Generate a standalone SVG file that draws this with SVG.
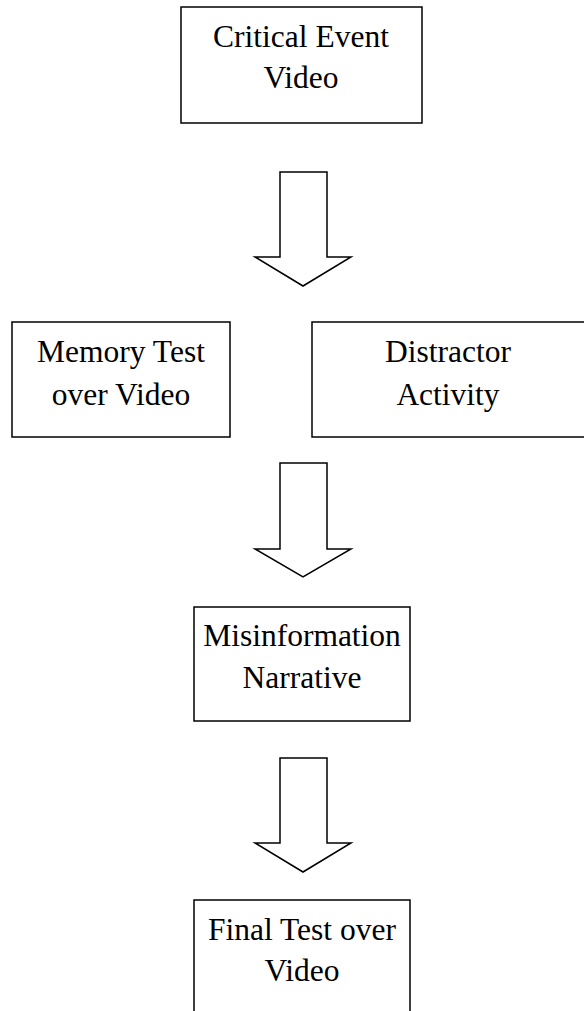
<svg xmlns="http://www.w3.org/2000/svg" width="584" height="1011" viewBox="0 0 584 1011">
<style>
.box{fill:#fff;stroke:#000;stroke-width:1.5}
.arr{fill:#fff;stroke:#000;stroke-width:1.5;stroke-linejoin:miter}
text{font-family:"Liberation Serif","Times New Roman",serif;font-size:31.5px;fill:#000;text-anchor:middle}
</style>
<rect width="584" height="1011" fill="#fff"/>
<g id="connectors">
<polygon class="arr" points="280,172 327,172 327,257 351,257 303,286 255,257 280,257"/>
<polygon class="arr" points="280,463 327,463 327,549 351,549 303,577 255,549 280,549"/>
<polygon class="arr" points="280,758 327,758 327,843 351,843 303,872 255,843 280,843"/>
</g>
<g id="critical-event-video">
<rect class="box" x="181" y="7" width="241" height="116"/>
<text x="301" y="47">Critical Event</text>
<text x="301" y="88">Video</text>
</g>
<g id="memory-test">
<rect class="box" x="12" y="322" width="218" height="115"/>
<text x="121" y="362">Memory Test</text>
<text x="121" y="405">over Video</text>
</g>
<g id="distractor-activity">
<rect class="box" x="312" y="322" width="290" height="115"/>
<text x="448" y="362">Distractor</text>
<text x="448" y="405">Activity</text>
</g>
<g id="misinformation-narrative">
<rect class="box" x="194" y="607" width="216" height="114"/>
<text x="302" y="646">Misinformation</text>
<text x="302" y="688">Narrative</text>
</g>
<g id="final-test">
<rect class="box" x="194" y="900" width="216" height="130"/>
<text x="302" y="940">Final Test over</text>
<text x="302" y="981">Video</text>
</g>
</svg>
